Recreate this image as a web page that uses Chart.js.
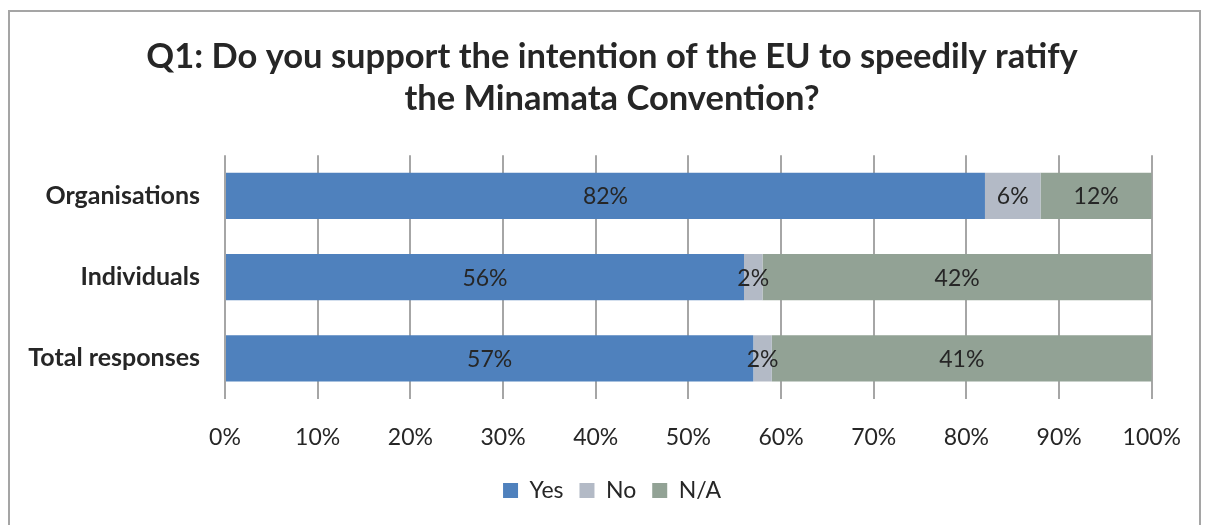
<!DOCTYPE html>
<html>
<head>
<meta charset="utf-8">
<script src="https://cdn.jsdelivr.net/npm/chart.js@4.4.0/dist/chart.umd.min.js"></script>
<style>
  body { margin: 0; background: #fff; }
  #frame { position: absolute; left: 8px; top: 10px; width: 1193px; height: 530px; border: 2px solid #a5a5a5; box-sizing: border-box; }
  #wrap { position: absolute; left: 0; top: 0; width: 1206px; height: 525px; }
</style>
</head>
<body>
<div id="frame"></div>
<div id="wrap"><canvas id="barChart"></canvas></div>
<script>
var categories = ["Organisations", "Individuals", "Total responses"];
var yesValues = [82, 56, 57];
var noValues = [6, 2, 2];
var naValues = [12, 42, 41];
var tickValues = [0, 10, 20, 30, 40, 50, 60, 70, 80, 90, 100];

var fontFamily = "Lato, 'Open Sans', sans-serif";

// draws the percentage inside each bar segment
var barLabels = {
    id: "barLabels",
    afterLayout: function(chart) {
        // let the category labels use the space left of the padding
        chart.scales.y.left = 0;
    },
    afterDatasetsDraw: function(chart) {
        var ctx = chart.ctx;
        ctx.save();
        ctx.font = "23px " + fontFamily;
        ctx.fillStyle = "#262626";
        ctx.textAlign = "center";
        ctx.textBaseline = "middle";
        chart.data.datasets.forEach(function(ds, i) {
            chart.getDatasetMeta(i).data.forEach(function(bar, j) {
                var cx = (bar.x + bar.base) / 2;
                ctx.fillText(ds.data[j] + "%", cx, bar.y + 1);
            });
        });
        ctx.restore();
    }
};

var chart = new Chart(document.getElementById("barChart"), {
    type: "bar",
    data: {
        labels: categories,
        datasets: [
            { label: "Yes", data: yesValues, backgroundColor: "#4f81bd" },
            { label: "No", data: noValues, backgroundColor: "#b3bac6" },
            { label: "N/A", data: naValues, backgroundColor: "#92a295" }
        ]
    },
    options: {
        indexAxis: "y",
        responsive: true,
        maintainAspectRatio: false,
        animation: false,
        datasets: { bar: { categoryPercentage: 1, barPercentage: 0.57, borderWidth: 0 } },
        layout: { padding: { left: 71, right: 53, top: 36, bottom: 13 } },
        plugins: {
            title: {
                display: true,
                text: ["Q1: Do you support the intention of the EU to speedily ratify", "the Minamata Convention?"],
                color: "#262626",
                font: { family: fontFamily, size: 34.5, weight: "bold", lineHeight: 1.22 },
                padding: { top: 0, bottom: 35 }
            },
            legend: {
                position: "bottom",
                labels: {
                    color: "#262626",
                    font: { family: fontFamily, size: 23 },
                    boxWidth: 15, boxHeight: 15, padding: 16
                }
            },
            tooltip: { enabled: false }
        },
        scales: {
            x: {
                stacked: true,
                min: 0, max: 100,
                afterBuildTicks: function(axis) {
                    axis.ticks = tickValues.map(function(v) { return { value: v }; });
                },
                afterFit: function(axis) { axis.height = 64; },
                grid: { color: "#a6a6a6", lineWidth: 2, drawTicks: false },
                border: { display: false },
                ticks: {
                    color: "#262626",
                    font: { family: fontFamily, size: 23 },
                    padding: 25,
                    callback: function(v) { return v + "%"; }
                }
            },
            y: {
                stacked: true,
                afterFit: function(axis) { axis.width = 154; },
                grid: { display: false, drawTicks: false },
                border: { display: false },
                ticks: {
                    color: "#262626",
                    font: { family: fontFamily, size: 25, weight: "bold" },
                    padding: 25
                }
            }
        }
    },
    plugins: [barLabels]
});
</script>
</body>
</html>
